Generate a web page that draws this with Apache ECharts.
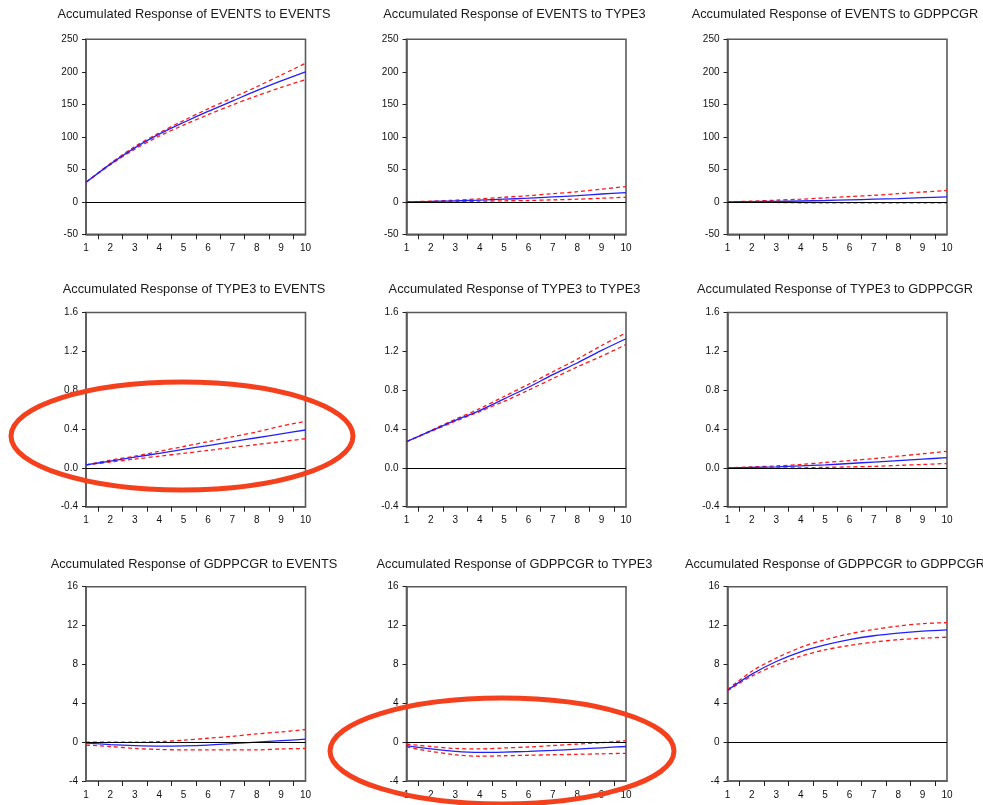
<!DOCTYPE html>
<html><head><meta charset="utf-8">
<script src="https://cdn.jsdelivr.net/npm/echarts@6/dist/echarts.min.js"></script>
<style>html,body{margin:0;padding:0;background:#fff}#c{width:983px;height:805px}</style>
</head><body><div id="c"></div>
<script>
const periods = [1, 2, 3, 4, 5, 6, 7, 8, 9, 10];
const titles = [
  'Accumulated Response of EVENTS to EVENTS',
  'Accumulated Response of EVENTS to TYPE3',
  'Accumulated Response of EVENTS to GDPPCGR',
  'Accumulated Response of TYPE3 to EVENTS',
  'Accumulated Response of TYPE3 to TYPE3',
  'Accumulated Response of TYPE3 to GDPPCGR',
  'Accumulated Response of GDPPCGR to EVENTS',
  'Accumulated Response of GDPPCGR to TYPE3',
  'Accumulated Response of GDPPCGR to GDPPCGR'
];
// row y-axis scales
const rowMin = [-50, -0.4, -4];
const rowMax = [250, 1.6, 16];
const rowInterval = [50, 0.4, 4];
const rowDecimals = [0, 1, 0];

// EVENTS row
const evEvMid = [30, 58, 83, 104, 122, 139, 155, 171, 186, 200];
const evEvUp  = [30, 59, 85, 106, 125, 143, 160, 177, 195, 213];
const evEvLo  = [30, 57, 81, 101, 118, 134, 149, 163, 176, 188];
const evTyMid = [0, 0.5, 1.5, 2.5, 4, 5.5, 7.5, 9.5, 12, 14];
const evTyUp  = [0, 1, 2.5, 4.5, 7, 9.5, 12.5, 15.5, 19.5, 23.5];
const evTyLo  = [0, 0, 0.5, 1, 1.5, 2, 3, 4, 5.5, 7];
const evGdMid = [0, 0.3, 0.6, 1.2, 2, 3, 4, 5, 6.3, 7.5];
const evGdUp  = [0, 1, 2.5, 4, 6, 8, 10, 12.5, 15, 17.5];
const evGdLo  = [0, -0.3, -1, -1.5, -1.7, -1.8, -1.8, -1.8, -1.8, -1.8];
// TYPE3 row
const tyEvMid = [0.03, 0.07, 0.11, 0.15, 0.19, 0.23, 0.27, 0.31, 0.35, 0.39];
const tyEvUp  = [0.03, 0.08, 0.12, 0.17, 0.22, 0.27, 0.32, 0.37, 0.43, 0.48];
const tyEvLo  = [0.03, 0.06, 0.09, 0.12, 0.15, 0.18, 0.21, 0.24, 0.27, 0.30];
const tyTyMid = [0.27, 0.38, 0.49, 0.59, 0.71, 0.83, 0.96, 1.08, 1.21, 1.33];
const tyTyUp  = [0.27, 0.385, 0.5, 0.61, 0.735, 0.86, 0.99, 1.12, 1.26, 1.39];
const tyTyLo  = [0.27, 0.375, 0.48, 0.58, 0.685, 0.8, 0.92, 1.04, 1.15, 1.27];
const tyGdMid = [0, 0.005, 0.01, 0.02, 0.03, 0.045, 0.06, 0.075, 0.09, 0.105];
const tyGdUp  = [0, 0.01, 0.02, 0.035, 0.055, 0.075, 0.095, 0.12, 0.145, 0.17];
const tyGdLo  = [0, 0, 0, 0, 0.005, 0.01, 0.015, 0.025, 0.035, 0.045];
// GDPPCGR row
const gdEvMid = [-0.1, -0.25, -0.35, -0.4, -0.38, -0.3, -0.15, 0, 0.15, 0.3];
const gdEvUp  = [0, 0, 0, 0.05, 0.2, 0.4, 0.6, 0.85, 1.05, 1.3];
const gdEvLo  = [-0.3, -0.45, -0.65, -0.75, -0.8, -0.8, -0.8, -0.8, -0.7, -0.65];
const gdTyMid = [-0.35, -0.7, -0.95, -1.05, -1.02, -0.95, -0.85, -0.72, -0.58, -0.45];
const gdTyUp  = [-0.2, -0.45, -0.65, -0.7, -0.6, -0.5, -0.35, -0.2, -0.05, 0.15];
const gdTyLo  = [-0.5, -0.95, -1.3, -1.45, -1.4, -1.35, -1.3, -1.25, -1.2, -1.15];
const gdGdMid = [5.35, 7.0, 8.3, 9.3, 10.0, 10.55, 10.95, 11.22, 11.42, 11.56];
const gdGdUp  = [5.4, 7.3, 8.65, 9.75, 10.55, 11.15, 11.6, 11.95, 12.2, 12.3];
const gdGdLo  = [5.3, 6.8, 7.95, 8.85, 9.5, 9.95, 10.3, 10.55, 10.7, 10.8];

const panels = [
  [evEvMid, evEvUp, evEvLo], [evTyMid, evTyUp, evTyLo], [evGdMid, evGdUp, evGdLo],
  [tyEvMid, tyEvUp, tyEvLo], [tyTyMid, tyTyUp, tyTyLo], [tyGdMid, tyGdUp, tyGdLo],
  [gdEvMid, gdEvUp, gdEvLo], [gdTyMid, gdTyUp, gdTyLo], [gdGdMid, gdGdUp, gdGdLo]
];

// layout
const colLeft = [86, 406.5, 727.5];
const colWidth = 219.5;
const rowTop = [39.3, 312.5, 586.7];
const rowHeight = [195, 194.2, 194.3];
const titleCx = [194, 514.5, 835];
const titleCy = [14.5, 289, 564];

const FONT = 'Arial, "Liberation Sans", sans-serif';
const frameColor = '#5a5a5a';

const grids = [], xAxes = [], yAxes = [], series = [], graphics = [];
for (let i = 0; i < 9; i++) {
  const r = Math.floor(i / 3), c = i % 3;
  grids.push({left: colLeft[c], top: rowTop[r], width: colWidth, height: rowHeight[r],
    show: true, borderColor: frameColor, borderWidth: 1.6, backgroundColor: 'transparent'});
  xAxes.push({type: 'value', gridIndex: i, min: 1, max: 10, interval: 1,
    axisLine: {show: true, onZero: false, lineStyle: {color: frameColor, width: 1.6}},
    axisTick: {show: false},
    minorTick: {show: true, splitNumber: 2, length: 5, lineStyle: {color: '#222', width: 1}},
    splitLine: {show: false}, minorSplitLine: {show: false},
    axisLabel: {show: true, color: '#111', fontSize: 10, fontFamily: FONT, margin: 9,
      showMinLabel: true, showMaxLabel: true}
  });
  const dec = rowDecimals[r];
  yAxes.push({type: 'value', gridIndex: i, min: rowMin[r], max: rowMax[r], interval: rowInterval[r],
    axisLine: {show: true, onZero: false, lineStyle: {color: frameColor, width: 1.6}},
    axisTick: {show: true, length: 4, lineStyle: {color: '#222', width: 1}},
    splitLine: {show: false},
    axisLabel: {show: true, color: '#111', fontSize: 10, fontFamily: FONT, margin: 8,
      showMinLabel: true, showMaxLabel: true,
      formatter: v => (Math.abs(v) < 1e-9 ? 0 : v).toFixed(dec)}
  });
  const [mid, up, lo] = panels[i];
  const toData = arr => periods.map((p, k) => [p, arr[k]]);
  series.push({type: 'line', xAxisIndex: i, yAxisIndex: i, data: toData(up), symbol: 'none', smooth: 0.3,
    silent: true, lineStyle: {color: '#ff1a1a', width: 1.3, type: [4, 3]}, z: 3});
  series.push({type: 'line', xAxisIndex: i, yAxisIndex: i, data: toData(lo), symbol: 'none', smooth: 0.3,
    silent: true, lineStyle: {color: '#ff1a1a', width: 1.3, type: [4, 3]}, z: 3});
  series.push({type: 'line', xAxisIndex: i, yAxisIndex: i, data: toData(mid), symbol: 'none', smooth: 0.3,
    silent: true, lineStyle: {color: '#2020ff', width: 1.3}, z: 4,
    markLine: {silent: true, symbol: 'none', label: {show: false},
      lineStyle: {color: '#000', width: 1.2, type: 'solid'}, data: [{yAxis: 0}], animation: false}});
  graphics.push({type: 'text', x: titleCx[c], y: titleCy[r], silent: true,
    style: {text: titles[i], font: '12.8px ' + FONT, fill: '#1a1a1a', textAlign: 'center', textVerticalAlign: 'middle'}});
}
// red hand-drawn annotation ellipses
graphics.push({type: 'ellipse', silent: true, z: 100, shape: {cx: 182, cy: 436, rx: 171, ry: 54},
  style: {fill: 'none', stroke: '#f5401e', lineWidth: 5}});
graphics.push({type: 'ellipse', silent: true, z: 100, shape: {cx: 502, cy: 751, rx: 172, ry: 53},
  style: {fill: 'none', stroke: '#f5401e', lineWidth: 5}});

const chart = echarts.init(document.getElementById('c'), null, {renderer: 'canvas'});
chart.setOption({
  animation: false,
  backgroundColor: '#fff',
  grid: grids, xAxis: xAxes, yAxis: yAxes, series: series, graphic: graphics
});
</script></body></html>
